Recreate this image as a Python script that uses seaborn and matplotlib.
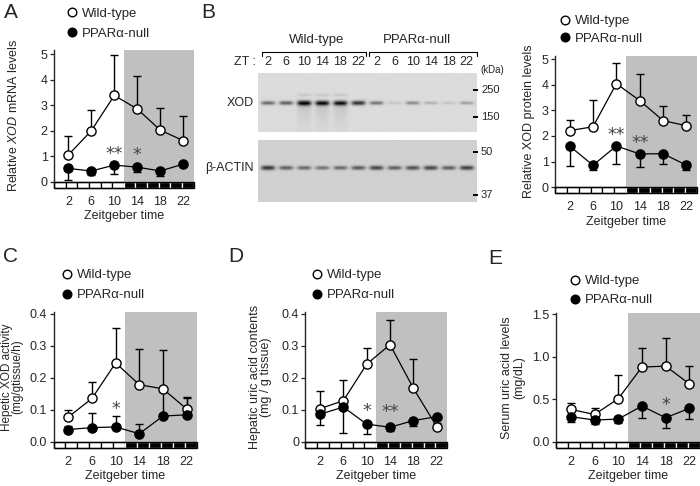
import numpy as np
import seaborn as sns
import matplotlib.pyplot as plt
from matplotlib.patches import Rectangle
from matplotlib.lines import Line2D

sns.set_style('ticks')
plt.rcParams['font.family'] = ['Liberation Sans', 'DejaVu Sans']
plt.rcParams['mathtext.fontset'] = 'custom'
plt.rcParams['mathtext.rm'] = 'Liberation Sans'
plt.rcParams['mathtext.it'] = 'Liberation Sans:italic'

# ---- data ----
zt = [2, 6, 10, 14, 18, 22]

mrna_wt = [1.05, 2.0, 3.38, 2.85, 2.02, 1.61]
mrna_wt_sd = [0.75, 0.82, 1.6, 1.28, 0.85, 0.96]
mrna_null = [0.52, 0.42, 0.65, 0.57, 0.42, 0.69]
mrna_null_sd = [0.45, 0.15, 0.35, 0.2, 0.2, 0.05]

prot_wt = [2.21, 2.36, 4.04, 3.38, 2.6, 2.4]
prot_wt_sd = [0.43, 1.03, 0.82, 1.05, 0.58, 0.41]
prot_null = [1.61, 0.86, 1.61, 1.3, 1.31, 0.86]
prot_null_sd = [0.79, 0.19, 0.69, 0.51, 0.39, 0.17]

act_wt = [0.077, 0.135, 0.246, 0.178, 0.165, 0.102]
act_wt_sd = [0.023, 0.052, 0.11, 0.111, 0.12, 0.034]
act_null = [0.038, 0.044, 0.046, 0.025, 0.08, 0.084]
act_null_sd = [0.01, 0.045, 0.034, 0.031, 0.076, 0.055]

uric_wt = [0.103, 0.128, 0.242, 0.303, 0.167, 0.047]
uric_wt_sd = [0.056, 0.065, 0.049, 0.077, 0.091, 0.012]
uric_null = [0.086, 0.108, 0.055, 0.045, 0.066, 0.078]
uric_null_sd = [0.034, 0.08, 0.031, 0.012, 0.016, 0.005]

serum_wt = [0.38, 0.32, 0.505, 0.877, 0.889, 0.68]
serum_wt_sd = [0.08, 0.075, 0.275, 0.22, 0.325, 0.205]
serum_null = [0.294, 0.255, 0.266, 0.419, 0.282, 0.392]
serum_null_sd = [0.067, 0.05, 0.05, 0.145, 0.12, 0.12]

# significance marks: (zt, y, text)
stars_a = [(10, 1.08, '**'), (14, 1.05, '*')]
stars_b = [(10, 2.04, '**'), (14, 1.71, '**')]
stars_c = [(10, 0.101, '*')]
stars_d = [(10, 0.096, '*'), (14, 0.094, '**')]
stars_e = [(18, 0.43, '*')]

# western blot band intensities (0 = none, 1 = saturated)
blot_lanes = ['2', '6', '10', '14', '18', '22'] * 2
xod_band = [0.55, 0.6, 1.0, 0.95, 0.92, 0.82, 0.5, 0.12, 0.4, 0.22, 0.12, 0.3]
actin_band = [0.8, 0.6, 0.55, 0.5, 0.55, 0.62, 0.72, 0.6, 0.68, 0.72, 0.6, 0.75]
size_marks = [('250', 90), ('150', 117.3), ('50', 152.3), ('37', 195)]

W, H = 700, 486
XMIN, XMAX = -0.5, 23.8
SHADE = '#c0c0c0'

fig = plt.figure(figsize=(W / 100, H / 100), dpi=100)


def box(l, t, r, b):
    return [l / W, 1 - b / H, (r - l) / W, (b - t) / H]


def series(ax, y, sd, direction, filled):
    y = np.asarray(y)
    sd = np.asarray(sd)
    z = np.zeros_like(sd)
    yerr = [z, sd] if direction == 'up' else [sd, z]
    ax.errorbar(zt, y, yerr=yerr, fmt='none', ecolor='k', elinewidth=1.0,
                capsize=2.6, capthick=1.0, zorder=2)
    sns.lineplot(x=zt, y=y, ax=ax, color='k', lw=0.9, marker='o',
                 markersize=6.6, markerfacecolor='k' if filled else 'white',
                 markeredgecolor='k', markeredgewidth=1.0, errorbar=None,
                 legend=False, zorder=3)


def panel(px, top_val, yticks, ylabels, ylabel, lab_right, lab_ls, lab_fs,
          wt, wt_sd, wt_dir, null, null_sd, null_dir, stars, leg_xy, leg_gap):
    l, t, r, b = px
    ax = fig.add_axes(box(l, t, r, b))
    ax.set_xlim(XMIN, XMAX)
    ax.set_ylim(0, top_val)
    mid = (XMIN + XMAX) / 2
    ax.axvspan(mid, XMAX, color=SHADE, lw=0, zorder=0)

    series(ax, wt, wt_sd, wt_dir, False)
    series(ax, null, null_sd, null_dir, True)

    for x, y, s in stars:
        ax.text(x, y, s, ha='center', va='center', fontsize=12.5,
                color='#444444', family='DejaVu Sans', zorder=5)

    # light / dark bar under the axis
    bh = 6 / (b - t)
    segs = np.linspace(XMIN, XMAX, 13)
    tr = ax.get_xaxis_transform()
    for i in range(12):
        dark = i >= 6
        ax.add_patch(Rectangle((segs[i], -bh), segs[i + 1] - segs[i], bh,
                               transform=tr, clip_on=False,
                               facecolor='k' if dark else 'white',
                               edgecolor='white' if dark else 'k', lw=0.9))
    ax.add_patch(Rectangle((XMIN, -bh), XMAX - XMIN, bh, transform=tr,
                           clip_on=False, facecolor='none', edgecolor='k',
                           lw=1.0, zorder=4))

    sns.despine(ax=ax, bottom=True)
    ax.spines['left'].set_linewidth(1.0)
    ax.set_xticks(zt)
    ax.set_xticklabels([str(v) for v in zt])
    ax.set_yticks(yticks)
    ax.set_yticklabels(ylabels)
    ax.tick_params(axis='x', length=0, labelsize=9, pad=10)
    ax.tick_params(axis='y', direction='out', length=3, width=0.9,
                   labelsize=9, pad=1.5)
    ax.set_xlabel('Zeitgeber time', fontsize=9, labelpad=2)
    ax.set_ylabel(ylabel, fontsize=lab_fs, linespacing=lab_ls)
    ax.yaxis.set_label_coords((lab_right - l) / (r - l), 0.5)

    fs = 9.5
    fs_px = fs * 100 / 72
    handles = [Line2D([], [], ls='none', marker='o', markersize=6.2,
                      markerfacecolor=c, markeredgecolor='k',
                      markeredgewidth=1.0) for c in ('white', 'k')]
    mx, my = leg_xy
    text_h = fs_px * 1.17
    ax.legend(handles, ['Wild-type', 'PPARα-null'], loc='upper left',
              bbox_to_anchor=((mx - 0.4 * fs_px) / W, 1 - (my - text_h / 2) / H),
              bbox_transform=fig.transFigure, frameon=False, fontsize=fs,
              handlelength=0.8, handletextpad=0.35, borderpad=0,
              borderaxespad=0, labelspacing=(leg_gap - text_h) / fs_px)
    return ax


int_ticks = [0, 1, 2, 3, 4, 5]
int_lbls = [str(v) for v in int_ticks]

panel((54, 50, 193.6, 181.7), 5.16, int_ticks, int_lbls,
      r'Relative $\it{XOD}$ mRNA levels', 20, 1.0, 9,
      mrna_wt, mrna_wt_sd, 'up', mrna_null, mrna_null_sd, 'down',
      stars_a, (72, 15), 23.7)

panel((555, 55.7, 697, 187.3), 5.13, int_ticks, int_lbls,
      'Relative XOD protein levels', 535, 1.0, 9,
      prot_wt, prot_wt_sd, 'up', prot_null, prot_null_sd, 'down',
      stars_b, (565, 22.7), 20.7)

panel((53.5, 312.3, 197.3, 441.7), 0.404, [0, 0.1, 0.2, 0.3, 0.4],
      ['0.0', '0.1', '0.2', '0.3', '0.4'],
      'Hepetic XOD activity\n(mg/gtissue/h)', 23, 0.82, 8.5,
      act_wt, act_wt_sd, 'up', act_null, act_null_sd, 'up',
      stars_c, (66.7, 276.7), 23.3)

panel((305.4, 312.3, 447.2, 441.7), 0.404, [0, 0.1, 0.2, 0.3, 0.4],
      ['0', '0.1', '0.2', '0.3', '0.4'],
      'Hepatic uric acid contents\n(mg / g tissue)', 272, 0.85, 9,
      uric_wt, uric_wt_sd, 'up', uric_null, uric_null_sd, 'down',
      stars_d, (317.3, 276.7), 23.3)

panel((556, 313.3, 700, 441.7), 1.51, [0, 0.5, 1.0, 1.5],
      ['0.0', '0.5', '1.0', '1.5'],
      'Serum uric acid levels\n(mg/dL)', 525, 1.0, 9,
      serum_wt, serum_wt_sd, 'up', serum_null, serum_null_sd, 'down',
      stars_e, (575, 282.7), 22.3)

# ---- western blot (panel B, left) ----
axb = fig.add_axes(box(200, 0, 500, 250))
axb.set_xlim(200, 500)
axb.set_ylim(250, 0)
axb.axis('off')

lane_x = np.linspace(268.3, 466.7, len(blot_lanes))


def blot(x0, x1, y0, y1, band_y, bands, bg, smear):
    nx, ny = int((x1 - x0) * 4), int((y1 - y0) * 4)
    xs = np.linspace(x0, x1, nx)
    ys = np.linspace(y0, y1, ny)
    img = np.full((ny, nx), bg)
    for cx, d in zip(lane_x, bands):
        prof_x = np.exp(-((xs - cx) / 7.0) ** 4)
        prof_y = np.exp(-((ys - band_y) / (1.2 + 1.3 * d)) ** 2)
        img -= d * (bg - 0.05) * np.outer(prof_y, prof_x)
        if smear and d > 0.9:
            tail = np.where(ys > band_y, np.exp(-(ys - band_y) / 14.0), 0)
            img -= 0.12 * np.outer(tail, prof_x)
            top = np.exp(-((ys - (band_y - 8)) / 1.5) ** 2)
            img -= 0.08 * np.outer(top, prof_x)
    img = np.clip(img, 0, 1)
    axb.imshow(img, extent=(x0, x1, y1, y0), cmap='gray', vmin=0, vmax=1,
               aspect='auto', interpolation='bilinear', zorder=1)


blot(258.3, 476.7, 72.7, 131.7, 102.7, xod_band, 0.86, True)
blot(258.3, 476.7, 140, 201.7, 167.7, actin_band, 0.82, False)

for x, s in zip(lane_x, blot_lanes):
    axb.text(x, 62, s, ha='center', va='center', fontsize=9)
axb.text(256, 62, 'ZT :', ha='right', va='center', fontsize=9)

axb.plot([261.7, 261.7, 366, 366], [56, 51.7, 51.7, 56], color='k', lw=0.8)
axb.plot([369.3, 369.3, 476.7, 476.7], [56, 51.7, 51.7, 56], color='k', lw=0.8)
axb.text(316.7, 40, 'Wild-type', ha='center', va='center', fontsize=9.5)
axb.text(417, 40, 'PPARα-null', ha='center', va='center', fontsize=9.5)

axb.text(254, 103, 'XOD', ha='right', va='center', fontsize=9)
axb.text(254, 168, 'β-ACTIN', ha='right', va='center', fontsize=9)

for s, y in size_marks:
    axb.plot([473, 477.5], [y, y], color='k', lw=1.4, solid_capstyle='butt')
    axb.text(481, y, s, ha='left', va='center', fontsize=8)
axb.text(480, 70, '(kDa)', ha='left', va='center', fontsize=7)

# panel letters
for s, x, y in [('A', 11, 12), ('B', 208, 12), ('C', 10, 256),
                ('D', 236, 257), ('E', 495, 258)]:
    fig.text(x / W, 1 - y / H, s, fontsize=15, ha='center', va='center')

fig.savefig('out.png', dpi=100)
